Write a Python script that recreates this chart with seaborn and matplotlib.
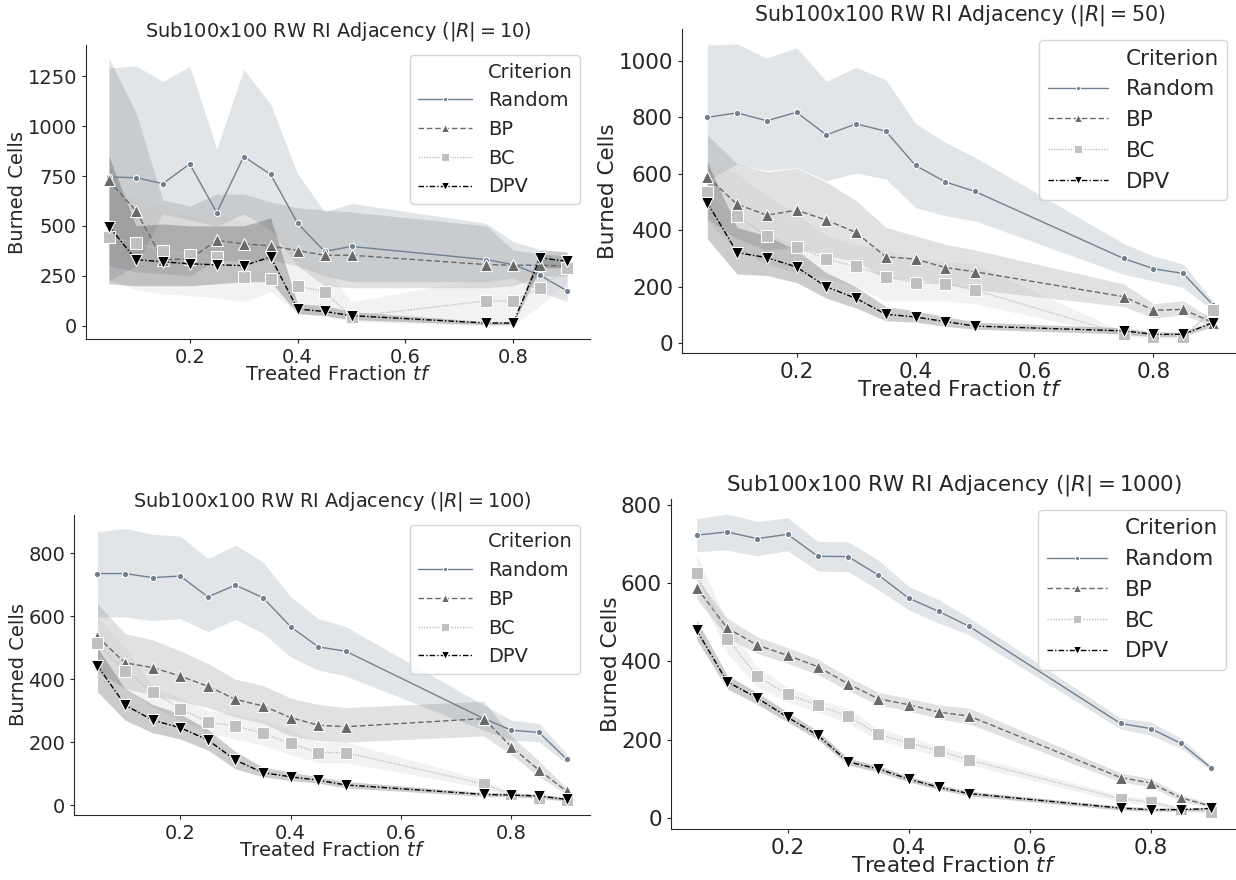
import numpy as np
import pandas as pd
import matplotlib
matplotlib.use("Agg")
import matplotlib.pyplot as plt
from matplotlib.lines import Line2D
import seaborn as sns

# treated fraction values (x axis)
tf = [0.05, 0.1, 0.15, 0.2, 0.25, 0.3, 0.35, 0.4, 0.45, 0.5, 0.75, 0.8, 0.85, 0.9]
criteria = ["Random", "BP", "BC", "DPV"]

# |R| = 10  (mean, lower and upper edge of the band)
r10_random = [745, 742, 712, 811, 566, 848, 758, 513, 372, 397, 331, 306, 252, 174]
r10_random_lo = [225, 300, 560, 530, 500, 560, 480, 300, 250, 220, 220, 240, 170, 120]
r10_random_hi = [1291, 1303, 1225, 1300, 886, 1286, 1109, 762, 571, 613, 513, 422, 381, 298]
r10_bp = [728, 576, 331, 334, 427, 410, 400, 376, 353, 353, 306, 303, 303, 298]
r10_bp_lo = [300, 270, 260, 250, 330, 320, 330, 300, 200, 190, 190, 200, 250, 250]
r10_bp_hi = [1340, 1070, 630, 600, 660, 660, 620, 590, 580, 570, 500, 380, 360, 350]
r10_bc = [444, 414, 376, 356, 344, 243, 235, 199, 169, 45, 124, 124, 190, 290]
r10_bc_lo = [230, 180, 160, 150, 140, 120, 170, 60, 50, 20, 0, 0, 100, 220]
r10_bc_hi = [680, 640, 600, 560, 560, 520, 500, 400, 300, 120, 240, 260, 280, 360]
r10_dpv = [497, 331, 320, 310, 305, 301, 344, 83, 71, 50, 13, 13, 339, 323]
r10_dpv_lo = [210, 200, 200, 200, 210, 220, 220, 60, 50, 30, 5, 5, 290, 290]
r10_dpv_hi = [850, 500, 510, 500, 500, 500, 540, 110, 100, 70, 20, 20, 380, 370]

# |R| = 50
r50_random = [799, 815, 787, 817, 737, 776, 750, 629, 571, 537, 300, 264, 247, 136]
r50_random_lo = [575, 634, 610, 622, 575, 602, 581, 480, 451, 433, 244, 221, 197, 115]
r50_random_hi = [1055, 1059, 1009, 1045, 927, 976, 932, 778, 711, 658, 353, 309, 280, 150]
r50_bp = [589, 492, 453, 471, 436, 392, 306, 298, 268, 253, 165, 117, 120, 73]
r50_bp_lo = [440, 370, 330, 340, 310, 290, 230, 225, 210, 190, 130, 90, 100, 60]
r50_bp_hi = [737, 636, 606, 620, 570, 505, 410, 380, 350, 330, 210, 140, 150, 85]
r50_bc = [534, 451, 380, 342, 298, 272, 236, 215, 211, 188, 32, 24, 24, 117]
r50_bc_lo = [430, 330, 280, 250, 230, 200, 150, 150, 150, 140, 25, 18, 18, 100]
r50_bc_hi = [640, 600, 520, 460, 380, 350, 330, 300, 290, 280, 40, 30, 30, 130]
r50_dpv = [498, 321, 303, 270, 200, 159, 103, 93, 77, 61, 44, 32, 32, 73]
r50_dpv_lo = [370, 245, 240, 215, 160, 125, 80, 75, 60, 50, 33, 25, 25, 60]
r50_dpv_hi = [640, 410, 380, 330, 250, 200, 130, 115, 95, 75, 55, 40, 40, 80]

# |R| = 100
r100_random = [736, 736, 723, 728, 662, 699, 659, 567, 503, 489, 275, 238, 231, 146]
r100_random_lo = [598, 598, 586, 593, 551, 590, 546, 471, 429, 410, 238, 207, 201, 132]
r100_random_hi = [869, 879, 861, 855, 784, 826, 773, 662, 593, 567, 318, 270, 260, 164]
r100_bp = [535, 452, 437, 410, 378, 336, 315, 278, 254, 249, 275, 185, 111, 44]
r100_bp_lo = [430, 370, 350, 330, 310, 280, 260, 220, 205, 200, 220, 160, 90, 35]
r100_bp_hi = [640, 545, 525, 490, 450, 400, 380, 340, 320, 310, 330, 220, 140, 55]
r100_bc = [514, 427, 360, 307, 263, 252, 228, 196, 167, 167, 67, 34, 21, 16]
r100_bc_lo = [420, 370, 310, 270, 230, 210, 190, 160, 135, 135, 55, 28, 18, 12]
r100_bc_hi = [600, 500, 380, 340, 300, 290, 270, 240, 200, 200, 80, 40, 28, 20]
r100_dpv = [443, 318, 270, 246, 207, 143, 103, 90, 79, 64, 34, 32, 29, 18]
r100_dpv_lo = [360, 270, 230, 210, 175, 115, 90, 78, 70, 55, 28, 26, 24, 14]
r100_dpv_hi = [500, 370, 320, 290, 240, 170, 120, 105, 90, 75, 40, 38, 35, 25]

# |R| = 1000
r1000_random = [722, 730, 713, 724, 668, 667, 620, 561, 527, 489, 241, 228, 190, 127]
r1000_random_lo = [680, 684, 669, 682, 630, 629, 582, 531, 497, 467, 227, 211, 177, 121]
r1000_random_hi = [764, 776, 757, 766, 706, 705, 658, 591, 557, 511, 255, 245, 203, 133]
r1000_bp = [588, 485, 441, 415, 386, 342, 304, 289, 270, 260, 103, 89, 51, 30]
r1000_bp_lo = [560, 460, 420, 395, 366, 325, 288, 273, 253, 240, 92, 79, 43, 26]
r1000_bp_hi = [612, 510, 462, 435, 405, 360, 320, 305, 288, 280, 115, 100, 60, 34]
r1000_bc = [626, 458, 361, 316, 287, 260, 213, 192, 171, 148, 49, 40, 23, 14]
r1000_bc_lo = [585, 420, 335, 295, 270, 242, 198, 178, 158, 135, 40, 33, 18, 10]
r1000_bc_hi = [672, 500, 385, 335, 303, 278, 228, 205, 185, 160, 58, 47, 28, 18]
r1000_dpv = [479, 348, 306, 257, 211, 143, 125, 99, 78, 62, 25, 21, 21, 24]
r1000_dpv_lo = [455, 330, 290, 245, 200, 135, 117, 92, 72, 56, 20, 17, 17, 20]
r1000_dpv_hi = [505, 365, 320, 270, 222, 152, 133, 106, 85, 68, 30, 26, 25, 28]

palette = {"Random": "#708090", "BP": "#696969", "BC": "#c0c0c0", "DPV": "#000000"}
markers = {"Random": ".", "BP": "^", "BC": "s", "DPV": "v"}
dashes = {"Random": "", "BP": (4, 2), "BC": (1, 1), "DPV": (4, 1.5, 1, 1.5)}


# three rows per point (low, mean, high): median gives the line, min-max the band
def long_form(series):
    rows = []
    for name, (mean, lo, hi) in zip(criteria, series):
        for x, m, l, h in zip(tf, mean, lo, hi):
            for v in (l, m, h):
                rows.append({"tf": x, "Burned Cells": v, "Criterion": name})
    return pd.DataFrame(rows)


def panel(ax, series, r, fs, title_fs):
    df = long_form(series)
    sns.lineplot(data=df, x="tf", y="Burned Cells", hue="Criterion",
                 style="Criterion", hue_order=criteria, style_order=criteria,
                 palette=palette, markers=markers, dashes=dashes,
                 estimator="median", errorbar=("pi", 100),
                 err_kws={"linewidth": 0},
                 markersize=9, linewidth=1, ax=ax)
    ax.set_title(f"Sub100x100 RW RI Adjacency ($|R| = {r}$)", fontsize=title_fs)
    ax.set_xlabel("Treated Fraction $tf$", fontsize=fs, labelpad=-1.5)
    ax.set_ylabel("Burned Cells", fontsize=fs, labelpad=0)
    ax.tick_params(labelsize=fs, length=3, width=0.8)
    sns.despine(ax=ax)
    # old style legend: "Criterion" as an empty entry
    leg = ax.get_legend()
    handles = list(leg.legend_handles)
    labels = [t.get_text() for t in leg.texts]
    for h in handles:
        h.set_markersize(6)
    blank = Line2D([], [], linestyle="", marker="")
    ax.legend([blank] + handles, ["Criterion"] + labels, loc="upper right",
              fontsize=fs, handlelength=2.8)


sns.set_style("ticks")
plt.rcParams["font.family"] = ["DejaVu Sans"]
fig = plt.figure(figsize=(12.36, 8.8), dpi=100)

ax1 = fig.add_axes([0.0696, 0.6148, 0.4078, 0.334])
ax2 = fig.add_axes([0.5518, 0.5989, 0.450, 0.368])
ax3 = fig.add_axes([0.0599, 0.0739, 0.4175, 0.341])
ax4 = fig.add_axes([0.5429, 0.0580, 0.458, 0.375])

panel(ax1, [(r10_random, r10_random_lo, r10_random_hi),
            (r10_bp, r10_bp_lo, r10_bp_hi),
            (r10_bc, r10_bc_lo, r10_bc_hi),
            (r10_dpv, r10_dpv_lo, r10_dpv_hi)], 10, 14, 13.9)
panel(ax2, [(r50_random, r50_random_lo, r50_random_hi),
            (r50_bp, r50_bp_lo, r50_bp_hi),
            (r50_bc, r50_bc_lo, r50_bc_hi),
            (r50_dpv, r50_dpv_lo, r50_dpv_hi)], 50, 15.5, 14.8)
panel(ax3, [(r100_random, r100_random_lo, r100_random_hi),
            (r100_bp, r100_bp_lo, r100_bp_hi),
            (r100_bc, r100_bc_lo, r100_bc_hi),
            (r100_dpv, r100_dpv_lo, r100_dpv_hi)], 100, 14, 13.9)
panel(ax4, [(r1000_random, r1000_random_lo, r1000_random_hi),
            (r1000_bp, r1000_bp_lo, r1000_bp_hi),
            (r1000_bc, r1000_bc_lo, r1000_bc_hi),
            (r1000_dpv, r1000_dpv_lo, r1000_dpv_hi)], 1000, 15.5, 15.4)

fig.savefig("out.png", dpi=100)
